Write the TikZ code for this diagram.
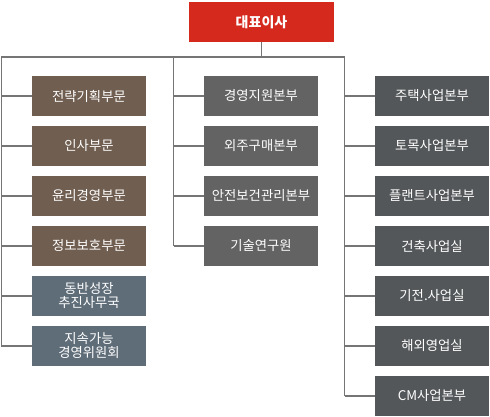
\documentclass[tikz,border=0pt]{standalone}
\usepackage{fontspec}
\newfontfamily\krfont{Noto Sans CJK KR}
\definecolor{ceored}{RGB}{214,41,30}
\definecolor{staffbrown}{RGB}{112,94,80}
\definecolor{staffslate}{RGB}{95,109,121}
\definecolor{supportgrey}{RGB}{99,99,99}
\definecolor{bizgrey}{RGB}{84,87,89}
\definecolor{linegrey}{RGB}{117,117,117}
\tikzset{
  orgbox/.style={draw=none, text=white, minimum width=85.5pt, minimum height=30pt,
    inner sep=0pt, align=center, font=\krfont\fontsize{10}{10.5}\selectfont},
  ceobox/.style={orgbox, fill=ceored, minimum width=108.75pt, font=\krfont\bfseries\fontsize{10.5}{11}\selectfont},
  brownbox/.style={orgbox, fill=staffbrown},
  slatebox/.style={orgbox, fill=staffslate},
  greybox/.style={orgbox, fill=supportgrey},
  darkbox/.style={orgbox, fill=bizgrey},
  orgline/.style={draw=linegrey, line width=0.9pt}
}
\begin{document}
\begin{tikzpicture}[x=0.75pt,y=0.75pt,yscale=-1,xscale=1]
    \useasboundingbox (0,0) rectangle (490,417);

    % CEO
    \node [ceobox] (ceo) at (261.5,22) {대표이사};

    % bus
    \coordinate (busL) at (1.5,57);
    \coordinate (busM) at (173.5,57);
    \coordinate (busR) at (344.5,57);

    % left column
    \node [brownbox] (l1) at (89,96) {전략기획부문};
    \node [brownbox] (l2) at (89,146) {인사부문};
    \node [brownbox] (l3) at (89,196) {윤리경영부문};
    \node [brownbox] (l4) at (89,246) {정보보호부문};
    \node [slatebox] (l5) at (89,296) {동반성장\\추진사무국};
    \node [slatebox] (l6) at (89,346) {지속가능\\경영위원회};

    % middle column
    \node [greybox] (m1) at (261,96) {경영지원본부};
    \node [greybox] (m2) at (261,146) {외주구매본부};
    \node [greybox] (m3) at (261,196) {안전보건관리본부};
    \node [greybox] (m4) at (261,246) {기술연구원};

    % right column
    \node [darkbox] (r1) at (432,96) {주택사업본부};
    \node [darkbox] (r2) at (432,146) {토목사업본부};
    \node [darkbox] (r3) at (432,196) {플랜트사업본부};
    \node [darkbox] (r4) at (432,246) {건축사업실};
    \node [darkbox] (r5) at (432,296) {기전.사업실};
    \node [darkbox] (r6) at (432,346) {해외영업실};
    \node [darkbox] (r7) at (432,396) {CM사업본부};

    % connectors
    \draw [orgline] (ceo.south) -- (ceo |- busL);
    \draw [orgline] (busL) -- (busR);
    \draw [orgline] (busL) -- (busL |- l6);
    \draw [orgline] (busM) -- (busM |- m4);
    \draw [orgline] (busR) -- (busR |- r7);
    \foreach \n in {l1,l2,l3,l4,l5,l6}
      \draw [orgline] (busL |- \n) -- (\n.west);
    \foreach \n in {m1,m2,m3,m4}
      \draw [orgline] (busM |- \n) -- (\n.west);
    \foreach \n in {r1,r2,r3,r4,r5,r6,r7}
      \draw [orgline] (busR |- \n) -- (\n.west);

\end{tikzpicture}
\end{document}
